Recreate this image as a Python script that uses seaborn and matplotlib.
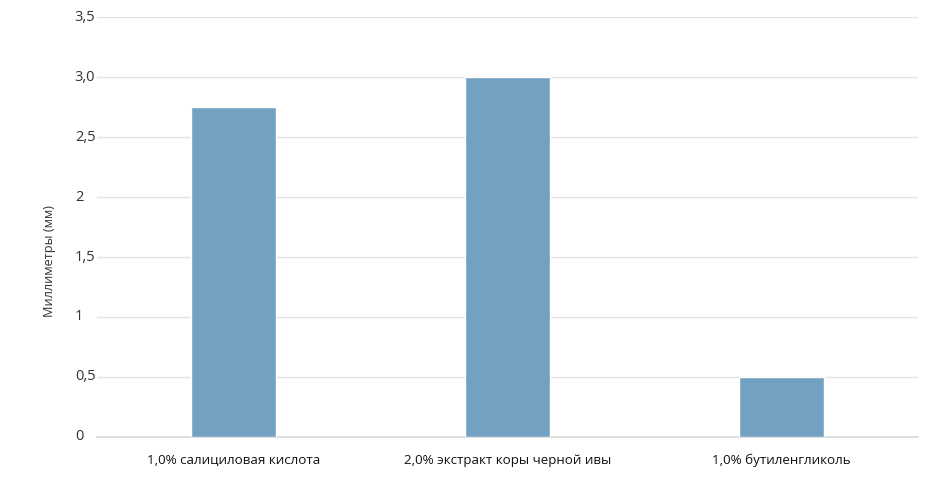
import matplotlib
matplotlib.use("Agg")
import matplotlib.pyplot as plt
import seaborn as sns
import pandas as pd

categories = ["1,0% салициловая кислота", "2,0% экстракт коры черной ивы", "1,0% бутиленгликоль"]
values = [2.75, 3.0, 0.5]
ytick_values = [0, 0.5, 1, 1.5, 2, 2.5, 3.0, 3.5]
ytick_labels = ["0", "0,5", "1", "1,5", "2", "2,5", "3,0", "3,5"]
ylabel = "Миллиметры (мм)"

sns.set_theme(style="white")
plt.rcParams['font.family'] = ['Open Sans', 'DejaVu Sans']

df = pd.DataFrame({"cat": categories, "val": values})

fig = plt.figure(figsize=(9.3, 4.78), dpi=100)
ax = fig.add_axes([97/930, 41/478, 821/930, 420/478])

sns.barplot(data=df, x="cat", y="val", color="#73a1c1", width=0.31, saturation=1, ax=ax, zorder=3)

ax.set_ylim(0, 3.5)
ax.set_xlim(-0.5, 2.5)
ax.set_yticks(ytick_values)
ax.set_yticklabels(ytick_labels, ha="left", fontsize=10.5, color="#333333")
ax.tick_params(axis="y", length=0, pad=16)
ax.tick_params(axis="x", length=0, pad=12, labelsize=9.6, labelcolor="#111111")
for lbl in ax.get_yticklabels():
    lbl.set_va("center")
ax.grid(axis="y", color="#e3e3e3", linewidth=1, zorder=0)
for s in ["top", "right", "left"]:
    ax.spines[s].set_visible(False)
ax.spines["bottom"].set_color("#d9d9d9")
ax.set_xlabel("")
ax.set_ylabel("")
fig.text(50/930, 1 - 261/478, ylabel, rotation=90, ha="center", va="center", fontsize=9.2, color="#333333")

fig.savefig("out.png", dpi=100, facecolor="white")
